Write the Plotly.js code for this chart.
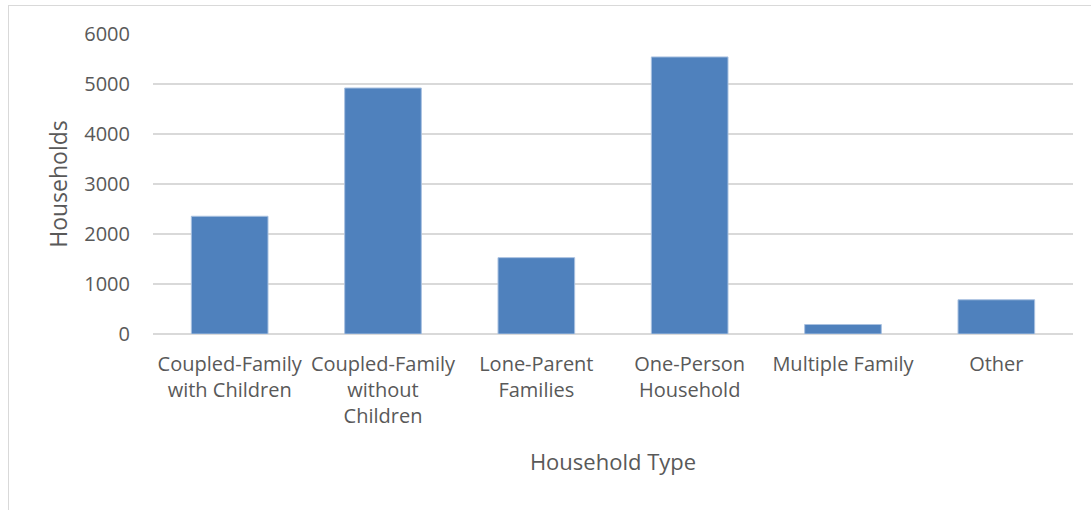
<!DOCTYPE html>
<html>
<head>
<meta charset="utf-8">
<script src="https://cdn.plot.ly/plotly-3.0.1.min.js"></script>
<style>
  html, body { margin: 0; padding: 0; background: #fff; }
  #wrap { position: relative; width: 1091px; height: 510px; }
  #chart { position: absolute; left: 0; top: 0; width: 1091px; height: 510px; }
  #frame { position: absolute; left: 8px; top: 5px; width: 1083px; height: 505px;
           border-left: 1.5px solid #d9d9d9; border-top: 1.5px solid #d9d9d9; pointer-events: none; }
</style>
</head>
<body>
<div id="wrap"><div id="chart"></div><div id="frame"></div></div>
<script>
const categories = ["Coupled-Family with Children", "Coupled-Family without Children", "Lone-Parent Families", "One-Person Household", "Multiple Family", "Other"];
const tickLabels = ["Coupled-Family<br>with Children", "Coupled-Family<br>without<br>Children", "Lone-Parent<br>Families", "One-Person<br>Household", "Multiple Family", "Other"];
const households = [2355, 4920, 1527, 5541, 190, 685];
const yTicks = [0, 1000, 2000, 3000, 4000, 5000, 6000];

const textColor = "#595959";
const trace = {
  type: "bar",
  x: categories,
  y: households,
  marker: { color: "#4f81bd", line: { color: "#a9c1e0", width: 1 } },
  hoverinfo: "x+y"
};
const layout = {
  width: 1091, height: 510,
  margin: { l: 153, r: 18, t: 34, b: 176, pad: 0 },
  paper_bgcolor: "#ffffff", plot_bgcolor: "#ffffff",
  bargap: 0.5,
  showlegend: false,
  font: { family: "Open Sans, sans-serif", color: textColor },
  xaxis: {
    type: "category",
    tickvals: categories,
    ticktext: tickLabels,
    tickfont: { family: "Open Sans, sans-serif", size: 20, color: textColor },
    ticks: "", showgrid: false, showline: false, zeroline: false,
    ticklabelstandoff: 16,
    automargin: false,
    title: { text: "Household Type", font: { family: "Open Sans, sans-serif", size: 22, color: textColor }, standoff: 26 }
  },
  yaxis: {
    range: [0, 6000],
    tickvals: yTicks,
    ticktext: yTicks.map(String),
    tickfont: { family: "Open Sans, sans-serif", size: 20, color: textColor },
    ticks: "", showline: false,
    showgrid: true, gridcolor: "#d9d9d9", gridwidth: 1.5,
    zeroline: true, zerolinecolor: "#d9d9d9", zerolinewidth: 1.5,
    ticklabelstandoff: 22,
    automargin: false,
    title: { text: "Households", font: { family: "Open Sans, sans-serif", size: 23, color: textColor }, standoff: 10 }
  }
};
Plotly.newPlot("chart", [trace], layout, { displayModeBar: false, staticPlot: true });
</script>
</body>
</html>
